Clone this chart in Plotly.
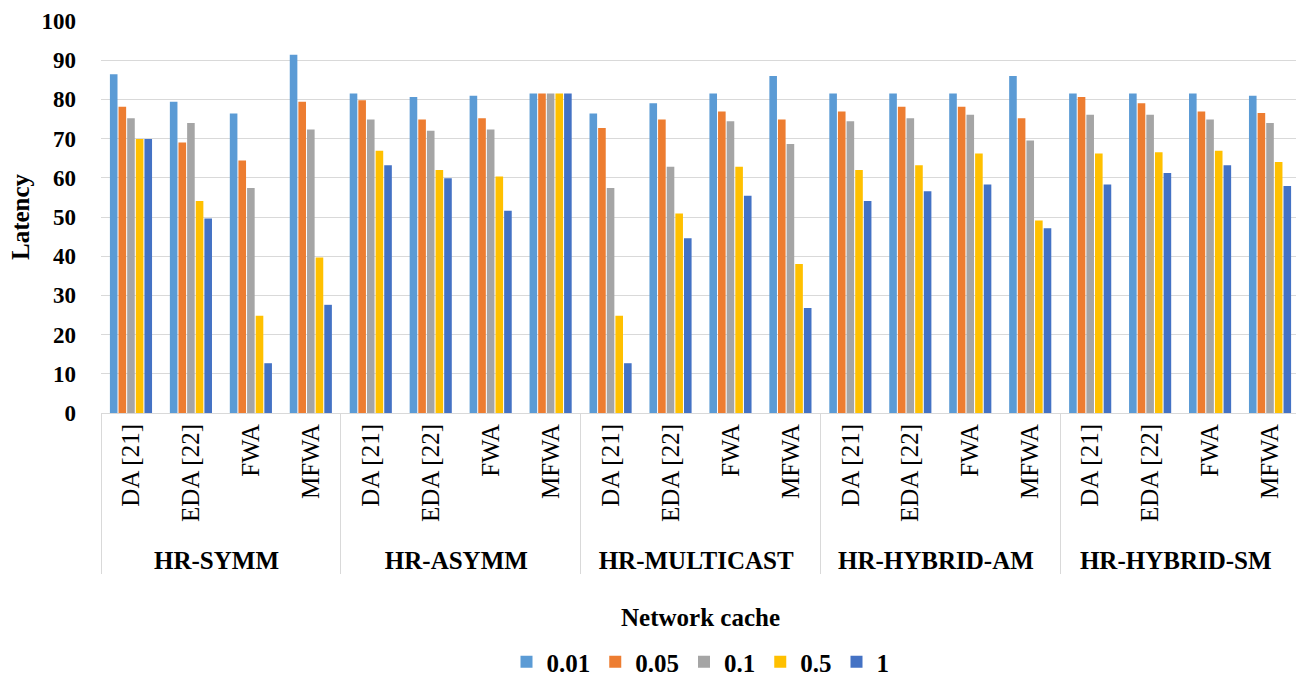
import plotly.graph_objects as go

groups = ["HR-SYMM", "HR-ASYMM", "HR-MULTICAST", "HR-HYBRID-AM", "HR-HYBRID-SM"]
methods = ["DA [21]", "EDA [22]", "FWA", "MFWA"]
series_names = ["0.01", "0.05", "0.1", "0.5", "1"]
colors = ["#5B9BD5", "#ED7D31", "#A5A5A5", "#FFC000", "#4472C4"]

# values per series, ordered group by group, method by method
s001 = [86.4, 79.4, 76.4, 91.4,
        81.5, 80.6, 80.9, 81.5,
        76.4, 79.0, 81.5, 86.0,
        81.5, 81.5, 81.5, 86.0,
        81.5, 81.5, 81.5, 80.9]
s005 = [78.1, 69.0, 64.4, 79.4,
        79.8, 74.9, 75.2, 81.5,
        72.7, 74.9, 76.9, 74.9,
        76.9, 78.1, 78.1, 75.2,
        80.6, 79.0, 76.9, 76.5]
s01 = [75.2, 74.0, 57.4, 72.3,
       74.9, 72.0, 72.3, 81.5,
       57.4, 62.8, 74.4, 68.6,
       74.4, 75.2, 76.1, 69.5,
       76.1, 76.1, 74.9, 74.0]
s05 = [69.9, 54.1, 24.8, 39.7,
       66.9, 62.0, 60.3, 81.5,
       24.8, 50.9, 62.8, 38.0,
       62.0, 63.2, 66.2, 49.1,
       66.2, 66.5, 66.9, 64.0]
s1 = [69.9, 49.6, 12.7, 27.6,
      63.2, 59.9, 51.6, 81.5,
      12.7, 44.6, 55.4, 26.8,
      54.1, 56.6, 58.3, 47.1,
      58.3, 61.2, 63.2, 57.9]
all_series = [s001, s005, s01, s05, s1]

outer = ["<b>" + g + "</b>" for g in groups for _ in methods]
inner = [m for _ in groups for m in methods]

font_family = "Liberation Serif, Times New Roman, serif"

fig = go.Figure()
for name, vals, col in zip(series_names, all_series, colors):
    fig.add_trace(go.Bar(
        x=[outer, inner], y=vals, name=name,
        marker=dict(color=col, line=dict(width=0)),
    ))

W, H = 1296, 669
ML, MR, MT, MB = 93, 4, 13, 264
PW, PH = W - ML - MR, H - MT - MB

fig.update_layout(
    width=W, height=H,
    barmode="group", bargap=0.28, bargroupgap=0.12,
    plot_bgcolor="white", paper_bgcolor="white",
    margin=dict(l=ML, r=MR, t=MT, b=MB, autoexpand=False),
    font=dict(family=font_family, color="black", size=25),
    legend=dict(orientation="h", x=0.5, xanchor="center", y=-249 / PH, yanchor="middle",
                font=dict(size=25, family=font_family, weight="bold"),
                itemwidth=30, traceorder="normal", itemsizing="constant"),
    showlegend=True,
    annotations=[
        dict(text="<b>Latency</b>", textangle=-90, xref="paper", yref="paper",
             x=-81 / PW, y=0.5, xanchor="center", yanchor="middle", showarrow=False,
             font=dict(size=25, family=font_family)),
        dict(text="<b>Network cache</b>", xref="paper", yref="paper",
             x=0.5, y=-204 / PH, xanchor="center", yanchor="middle", showarrow=False,
             font=dict(size=25, family=font_family)),
    ],
)
fig.update_yaxes(
    range=[0, 100], dtick=10, showgrid=True, gridcolor="#D9D9D9", gridwidth=1,
    zeroline=False, showline=False, ticks="", ticklabelstandoff=24,
    ticklabeloverflow="allow",
    tickfont=dict(size=23, family=font_family, weight="bold"),
    automargin=False,
)
fig.update_xaxes(
    type="multicategory", showline=True, linecolor="#D9D9D9", linewidth=1,
    showdividers=True, dividercolor="#D9D9D9", dividerwidth=1,
    tickangle=-90, ticks="",
    tickfont=dict(size=25, family=font_family),
    automargin=False,
)

fig.write_html("out.html")
